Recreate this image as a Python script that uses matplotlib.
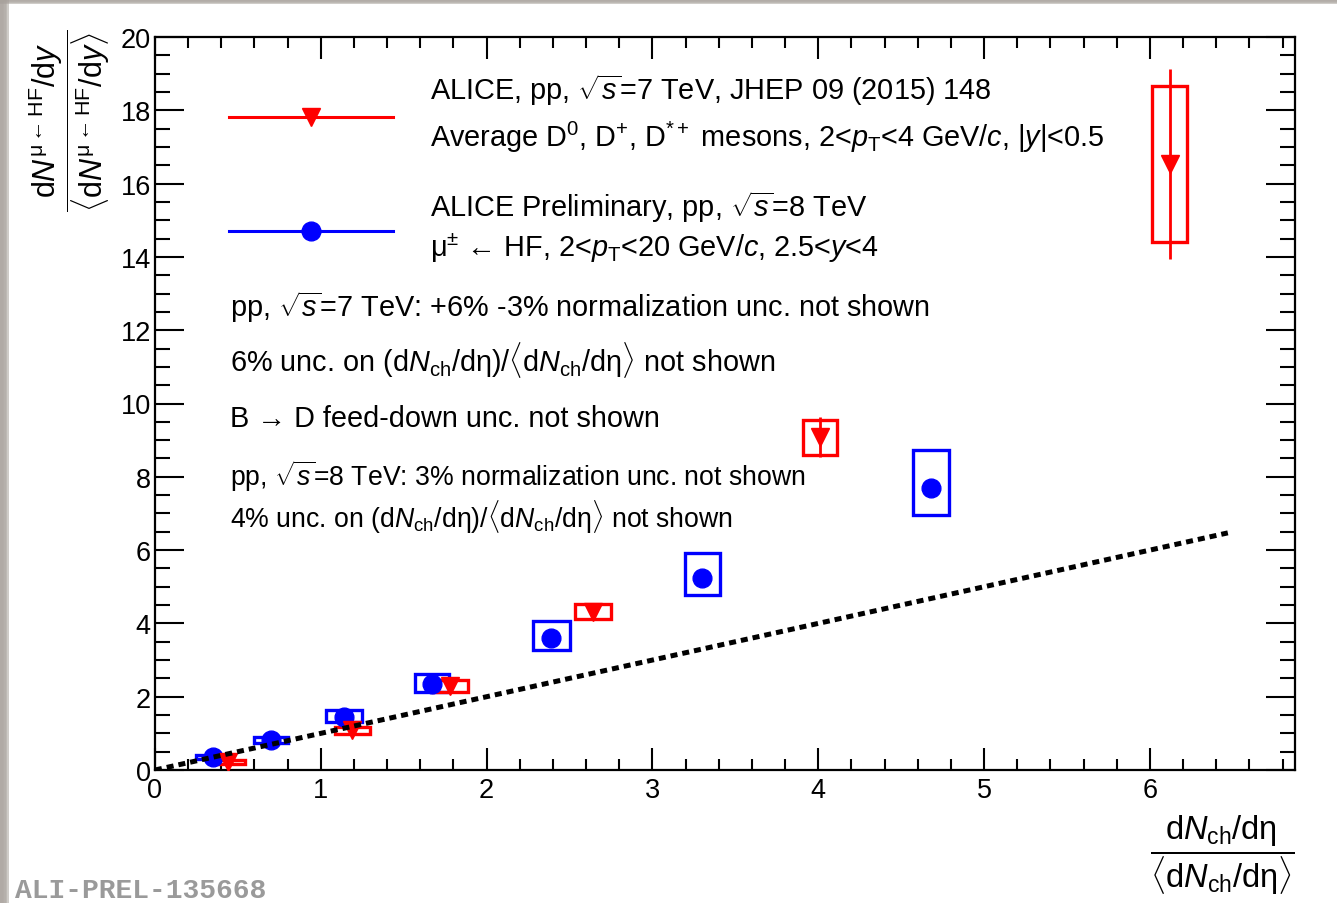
#!/usr/bin/env python
"""
Heavy-flavour yields vs. charged-particle multiplicity in pp collisions.
"""

import numpy as np
import matplotlib
matplotlib.use("Agg")
import matplotlib.pyplot as plt
from matplotlib.patches import Rectangle

# D mesons, pp 7 TeV
d7_x = [0.44, 1.19, 1.78, 2.64, 4.01, 6.12]
d7_y = [0.22, 1.08, 2.29, 4.32, 9.08, 16.53]
d7_stat = [0.05, 0.06, 0.08, 0.15, 0.55, 2.60]
d7_sys = [0.05, 0.10, 0.16, 0.20, 0.48, 2.12]
d7_dx = [0.105, 0.105, 0.105, 0.11, 0.105, 0.105]

# muons from HF decays, pp 8 TeV
mu8_x = [0.35, 0.70, 1.14, 1.67, 2.39, 3.30, 4.68]
mu8_y = [0.35, 0.81, 1.45, 2.34, 3.60, 5.24, 7.69]
mu8_stat = [0.01, 0.02, 0.03, 0.04, 0.06, 0.08, 0.12]
mu8_sys_lo = [0.05, 0.08, 0.14, 0.22, 0.33, 0.47, 0.73]
mu8_sys_hi = [0.06, 0.10, 0.19, 0.27, 0.47, 0.68, 1.04]
mu8_dx = [0.105, 0.105, 0.11, 0.105, 0.11, 0.105, 0.11]

# y = x reference
diag_x = [0.0, 6.47]

RED = '#ff0000'
BLUE = '#0000ff'

plt.rcParams['font.family'] = ['Liberation Sans', 'DejaVu Sans']
plt.rcParams['mathtext.fontset'] = 'custom'
plt.rcParams['mathtext.rm'] = 'Liberation Sans'
plt.rcParams['mathtext.it'] = 'Liberation Sans:italic'
plt.rcParams['mathtext.bf'] = 'Liberation Sans:bold'

fig = plt.figure(figsize=(13.37, 9.04), dpi=100)
fig.patch.set_facecolor('white')

# soft grey page edge on the left and top
for i, a in enumerate([0.55, 0.45, 0.35, 0.22, 0.12]):
    fig.patches.append(Rectangle((0, 0), (9 - i * 1.6) / 1337., 1, transform=fig.transFigure,
                                 color='#a8a29c', alpha=a, lw=0, zorder=-5))
    fig.patches.append(Rectangle((0, 1 - (5 - i * 0.9) / 904.), 1, (5 - i * 0.9) / 904.,
                                 transform=fig.transFigure, color='#a8a29c', alpha=a, lw=0, zorder=-5))

ax = fig.add_axes([155 / 1337., 1 - 771 / 904., 1140 / 1337., 733 / 904.])
ax.set_xlim(0, 6.875)
ax.set_ylim(0, 20)

def sys_box(ax, x, dx, lo, hi, color, z):
    ax.add_patch(Rectangle((x - dx, lo), 2 * dx, hi - lo, fill=False, ec=color, lw=2.4, zorder=z))

# 8 TeV muons
for x, y, dx, lo, hi in zip(mu8_x, mu8_y, mu8_dx, mu8_sys_lo, mu8_sys_hi):
    sys_box(ax, x, dx, y - lo, y + hi, BLUE, 3)
ax.errorbar(mu8_x, mu8_y, yerr=mu8_stat, fmt='o', color=BLUE, ms=13.5, elinewidth=2, capsize=0, zorder=4)

# 7 TeV D mesons
for x, y, dx, s in zip(d7_x, d7_y, d7_dx, d7_sys):
    sys_box(ax, x, dx, y - s, y + s, RED, 3)
ax.errorbar(d7_x, d7_y, yerr=d7_stat, fmt='v', color=RED, ms=13, elinewidth=2, capsize=0, zorder=4)

ax.plot(diag_x, diag_x, color='black', lw=3.6, ls=(0, (1.4, 1.0)), zorder=6)

# axes frame and ticks
for sp in ax.spines.values():
    sp.set_linewidth(1.6)
ax.set_xticks(np.arange(0, 7, 1))
ax.set_xticks(np.arange(0, 6.9, 0.2), minor=True)
ax.set_yticks(np.arange(0, 21, 2))
ax.set_yticks(np.arange(0, 20.1, 0.5), minor=True)
ax.tick_params(which='both', direction='in', top=True, right=True, width=1.5, labelsize=19.5)
ax.tick_params(axis='x', which='major', length=16, pad=5)
ax.tick_params(axis='x', which='minor', length=8)
ax.tick_params(axis='y', which='major', length=21, pad=3)
ax.tick_params(axis='y', which='minor', length=11)

# legend entries
ax.plot([0.065, 0.209], [0.891, 0.891], color=RED, lw=2.2, transform=ax.transAxes, clip_on=False)
ax.plot([0.137], [0.891], 'v', color=RED, ms=13, transform=ax.transAxes)
ax.plot([0.065, 0.209], [0.735, 0.735], color=BLUE, lw=2.2, transform=ax.transAxes, clip_on=False)
ax.plot([0.137], [0.735], 'o', color=BLUE, ms=13.5, transform=ax.transAxes)

big = 20.8
small = 19.2
notes = [
    (0.241, 0.9154, r'ALICE, pp, $\sqrt{s}$=7 TeV, JHEP 09 (2015) 148', big),
    (0.241, 0.8513, r'Average D$^{0}$, D$^{+}$, D$^{*+}$ mesons, 2<$p_{\mathrm{T}}$<4 GeV/$c$, |$y$|<0.5', big),
    (0.241, 0.7558, r'ALICE Preliminary, pp, $\sqrt{s}$=8 TeV', big),
    (0.241, 0.7012, r'μ$^{\pm}$ ← HF, 2<$p_{\mathrm{T}}$<20 GeV/$c$, 2.5<$y$<4', big),
    (0.066, 0.6194, r'pp, $\sqrt{s}$=7 TeV: +6% -3% normalization unc. not shown', big),
    (0.066, 0.5443, r'6% unc. on (d$N_{\mathrm{ch}}$/dη)/$\langle$d$N_{\mathrm{ch}}$/dη$\rangle$ not shown', big),
    (0.066, 0.4693, r'B → D feed-down unc. not shown', big),
    (0.066, 0.3888, r'pp, $\sqrt{s}$=8 TeV: 3% normalization unc. not shown', small),
    (0.066, 0.3315, r'4% unc. on (d$N_{\mathrm{ch}}$/dη)/$\langle$d$N_{\mathrm{ch}}$/dη$\rangle$ not shown', small),
]
for x, y, s, fs in notes:
    ax.text(x, y, s, transform=ax.transAxes, fontsize=fs, ha='left', va='baseline')

# axis titles as stacked fractions
fig.text(69 / 1337., 1 - 121 / 904.,
         r'$\dfrac{\mathrm{d}N^{\mathrm{\mu}{\leftarrow}\mathrm{HF}}/\mathrm{d}y}'
         r'{\langle\mathrm{d}N^{\mathrm{\mu}{\leftarrow}\mathrm{HF}}/\mathrm{d}y\rangle}$',
         rotation=90, fontsize=22, ha='center', va='center')
fig.text(1222 / 1337., 1 - 855 / 904.,
         r'$\dfrac{\mathrm{d}N_{\mathrm{ch}}/\mathrm{d\eta}}{\langle\mathrm{d}N_{\mathrm{ch}}/\mathrm{d\eta}\rangle}$',
         fontsize=23.5, ha='center', va='center')

fig.text(15 / 1337., 1 - 898 / 904., 'ALI-PREL-135668', family='Liberation Mono', weight='bold',
         color='#9a9a9a', fontsize=20.2, ha='left', va='baseline')

fig.savefig('out.png', dpi=100)
